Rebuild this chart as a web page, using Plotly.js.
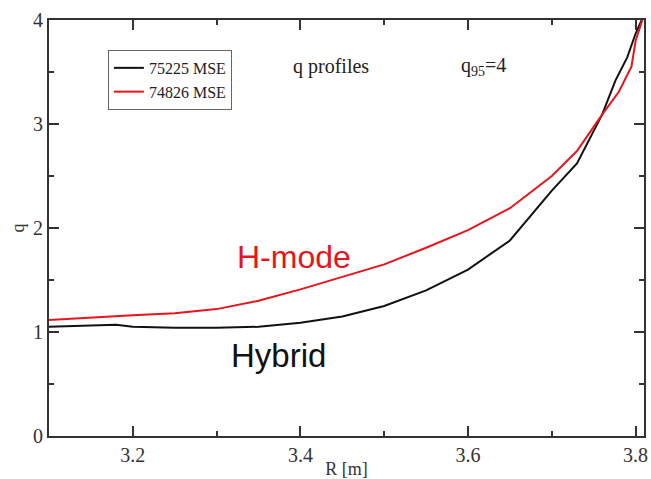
<!DOCTYPE html>
<html>
<head>
<meta charset="utf-8">
<script src="https://cdn.plot.ly/plotly-3.0.1.min.js"></script>
<style>html,body{margin:0;padding:0;background:#fff;}#chart{width:651px;height:479px;}</style>
</head>
<body>
<div id="chart"></div>
<script>
// Series 75225 MSE (Hybrid, black)
const rBlack = [3.10, 3.15, 3.18, 3.20, 3.25, 3.30, 3.35, 3.40, 3.45, 3.50, 3.55, 3.60, 3.65, 3.70, 3.73, 3.76, 3.776, 3.79, 3.80, 3.81];
const qBlack = [1.05, 1.06, 1.07, 1.05, 1.04, 1.04, 1.05, 1.09, 1.15, 1.25, 1.40, 1.60, 1.88, 2.36, 2.62, 3.09, 3.42, 3.64, 3.87, 4.05];
// Series 74826 MSE (H-mode, red)
const rRed = [3.10, 3.15, 3.20, 3.25, 3.30, 3.35, 3.40, 3.45, 3.50, 3.55, 3.60, 3.65, 3.70, 3.73, 3.76, 3.78, 3.795, 3.80, 3.81];
const qRed = [1.115, 1.14, 1.16, 1.18, 1.22, 1.30, 1.41, 1.53, 1.65, 1.81, 1.98, 2.19, 2.50, 2.74, 3.09, 3.31, 3.55, 3.80, 4.05];
const seriesNames = ["75225 MSE", "74826 MSE"];
const xTickVals = [3.2, 3.4, 3.6, 3.8];
const xMinorVals = [3.3, 3.5, 3.7];
const yTickVals = [0, 1, 2, 3, 4];
const yMinorVals = [0.5, 1.5, 2.5, 3.5];

const serif = "Liberation Serif";
const sans = "Liberation Sans";

const traces = [
  {x: rBlack, y: qBlack, name: seriesNames[0], mode: "lines", line: {color: "#111", width: 2}},
  {x: rRed, y: qRed, name: seriesNames[1], mode: "lines", line: {color: "#e8141b", width: 2}}
];

const layout = {
  width: 651, height: 479,
  margin: {l: 49, r: 7, t: 20, b: 43},
  paper_bgcolor: "#fff", plot_bgcolor: "#fff",
  font: {family: serif, size: 18, color: "#333"},
  showlegend: true,
  legend: {
    x: 0.099, y: 0.928, xanchor: "left", yanchor: "top",
    bgcolor: "#fff", bordercolor: "#666", borderwidth: 1,
    font: {family: serif, size: 16, color: "#222"},
    tracegroupgap: 0
  },
  xaxis: {
    showline: true, linewidth: 2, linecolor: "#333", mirror: "ticks",
    ticks: "inside", ticklen: 10, tickwidth: 2, tickcolor: "#333",
    showgrid: false, zeroline: false,
    tickfont: {family: serif, size: 20, color: "#333"},
    range: [3.1, 3.81], tickvals: xTickVals,
    minor: {tickvals: xMinorVals, ticks: "inside", ticklen: 5, tickwidth: 2, tickcolor: "#333"},
    title: {text: "R [m]", font: {family: serif, size: 18, color: "#333"}, standoff: 2}
  },
  yaxis: {
    showline: true, linewidth: 2, linecolor: "#333", mirror: "ticks",
    ticks: "inside", ticklen: 10, tickwidth: 2, tickcolor: "#333",
    showgrid: false, zeroline: false,
    tickfont: {family: serif, size: 20, color: "#333"},
    range: [0, 4], tickvals: yTickVals,
    minor: {tickvals: yMinorVals, ticks: "inside", ticklen: 5, tickwidth: 2, tickcolor: "#333"},
    title: {text: "q", font: {family: serif, size: 18, color: "#333"}, standoff: 4}
  },
  annotations: [
    {x: 3.437, y: 3.55, xref: "x", yref: "y", text: "q profiles", showarrow: false,
     font: {family: serif, size: 20, color: "#222"}},
    {x: 3.619, y: 3.55, xref: "x", yref: "y", text: "q<sub>95</sub>=4", showarrow: false,
     font: {family: serif, size: 20, color: "#222"}},
    {x: 3.392, y: 1.72, xref: "x", yref: "y", text: "H-mode", showarrow: false,
     font: {family: sans, size: 32, color: "#e8141b"}},
    {x: 3.374, y: 0.77, xref: "x", yref: "y", text: "Hybrid", showarrow: false,
     font: {family: sans, size: 33, color: "#111"}}
  ]
};

Plotly.newPlot("chart", traces, layout, {displayModeBar: false, staticPlot: true});
</script>
</body>
</html>
